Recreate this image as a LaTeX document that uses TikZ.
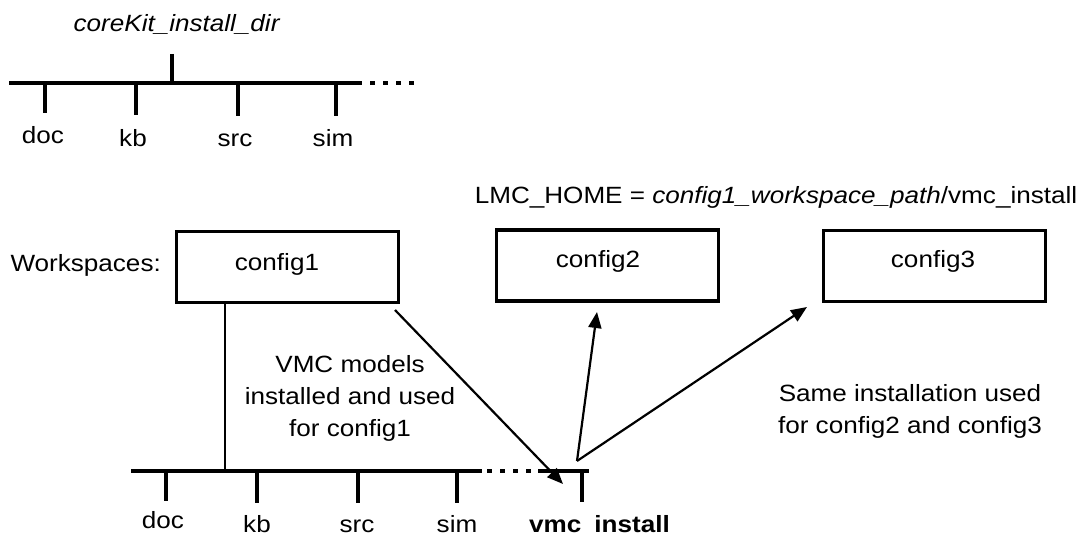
\documentclass[tikz,border=0pt]{standalone}
\usepackage{fontspec}
\setmainfont{Liberation Sans}[FakeStretch=1.11]
\usetikzlibrary{arrows.meta}
\begin{document}
\begin{tikzpicture}[x=1pt,y=-1pt,
  lbl/.style={inner sep=0pt, anchor=base, font=\fontsize{23.5}{32}\selectfont},
  tree/.style={line width=3.3pt},
  tick/.style={line width=3.1pt},
  dotsline/.style={line width=3.3pt, dash pattern=on 5pt off 8pt},
  wbox/.style={draw, line width=3.3pt, minimum width=222pt, minimum height=71pt, inner sep=0pt},
  arr/.style={line width=2.2pt, -{Triangle[length=16pt,width=13pt]}}]
\useasboundingbox (0,0) rectangle (1086,535);

% ---------- top tree ----------
\node[lbl] (root) at (177,32) {\textit{coreKit\_install\_dir}};
\coordinate (tTop) at (172,54);
\coordinate (tJ) at (172,83);
\coordinate (tL) at (9,83);
\coordinate (tR) at (362,83);
\coordinate (tD1) at (370,83);
\coordinate (tD2) at (414,83);
\draw[tree] (tL) -- (tR);
\draw[dotsline] (tD1) -- (tD2);
\draw[tick] (tTop) -- (tJ);

\coordinate (tdA) at (45,84);  \coordinate (tdB) at (45,113);
\coordinate (tkA) at (136,84); \coordinate (tkB) at (136,115);
\coordinate (tsA) at (238,84); \coordinate (tsB) at (238,116);
\coordinate (tmA) at (336,84); \coordinate (tmB) at (336,116);
\draw[tick] (tdA) -- (tdB);
\draw[tick] (tkA) -- (tkB);
\draw[tick] (tsA) -- (tsB);
\draw[tick] (tmA) -- (tmB);
\node[lbl] (tdoc) at (43,143) {doc};
\node[lbl] (tkb)  at (133,146) {kb};
\node[lbl] (tsrc) at (235,146) {src};
\node[lbl] (tsim) at (333,146) {sim};

% ---------- workspaces ----------
\node[lbl] (lmc) at (776,203) {LMC\_HOME = \textit{config1\_workspace\_path}/vmc\_install};
\node[lbl, anchor=base east] (ws) at (161,271) {Workspaces:};

\node[wbox] (c1) at (287.5,267) {};
\node[wbox] (c2) at (607.5,265.5) {};
\node[wbox] (c3) at (934.5,266) {};
\node[lbl] (t1) at (277,270) {config1};
\node[lbl] (t2) at (598,267) {config2};
\node[lbl] (t3) at (933,267) {config3};

% ---------- bottom tree ----------
\coordinate (bL) at (131,471);
\coordinate (bR) at (482,471);
\coordinate (bD1) at (487,471);
\coordinate (bD2) at (536,471);
\coordinate (bS1) at (538,471);
\coordinate (bS2) at (589,471);
\coordinate (bv) at (225,471);
\draw[tree] (bL) -- (bR);
\draw[dotsline] (bD1) -- (bD2);
\draw[tree] (bS1) -- (bS2);
\draw[line width=2.8pt] (c1.south -| bv) -- (bv);

\coordinate (bdA) at (166,472); \coordinate (bdB) at (166,501);
\coordinate (bkA) at (257,472); \coordinate (bkB) at (257,503);
\coordinate (bsA) at (358,472); \coordinate (bsB) at (358,503);
\coordinate (bmA) at (457,472); \coordinate (bmB) at (457,503);
\coordinate (bvA) at (582,473); \coordinate (bvB) at (582,502);
\draw[tick] (bdA) -- (bdB);
\draw[tick] (bkA) -- (bkB);
\draw[tick] (bsA) -- (bsB);
\draw[tick] (bmA) -- (bmB);
\draw[tick] (bvA) -- (bvB);
\node[lbl] (bdoc) at (163,528) {doc};
\node[lbl] (bkb)  at (257,532) {kb};
\node[lbl] (bsrc) at (357,532) {src};
\node[lbl] (bsim) at (457,532) {sim};
\node[lbl, anchor=base west] (bvmc) at (529,532) {\textbf{vmc\hspace{13pt}install}};

% ---------- arrows ----------
\coordinate (a1s) at (395,310);
\coordinate (a1e) at (563,484);
\coordinate (hub) at (577,461);
\coordinate (a2e) at (597,312);
\coordinate (a3e) at (807,307);
\draw[arr] (a1s) -- (a1e);
\draw[arr] (hub) -- (a2e);
\draw[arr] (hub) -- (a3e);

% ---------- annotations ----------
\node[lbl] (n1a) at (350,372) {VMC models};
\node[lbl] (n1b) at (350,404) {installed and used};
\node[lbl] (n1c) at (350,436) {for config1};
\node[lbl] (n2a) at (910,401) {Same installation used};
\node[lbl] (n2b) at (910,433) {for config2 and config3};
\end{tikzpicture}
\end{document}
